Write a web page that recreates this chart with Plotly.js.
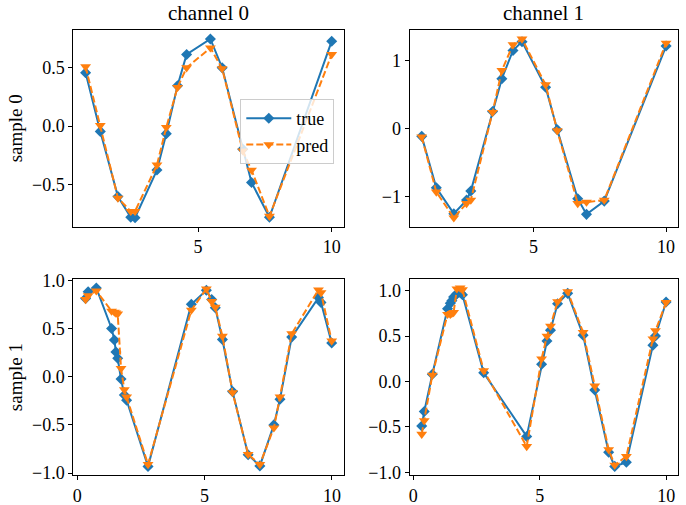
<!DOCTYPE html>
<html>
<head>
<meta charset="utf-8">
<script src="https://cdn.plot.ly/plotly-3.0.1.min.js"></script>
<style>
  html, body { margin: 0; padding: 0; background: #ffffff; }
  #chart { width: 686px; height: 505px; }
</style>
</head>
<body>
<div id="chart"></div>
<script>
// Time stamps of each sample
const tSample0 = [0.79, 1.34, 2.0, 2.48, 2.64, 3.46, 3.81, 4.23, 4.57, 5.46, 5.90, 6.67, 7.0, 7.67, 10.0];
const tSample1 = [0.33, 0.43, 0.75, 1.35, 1.46, 1.52, 1.59, 1.72, 1.85, 1.94, 2.78, 4.48, 5.07, 5.28, 5.42,
                  5.70, 6.10, 6.71, 7.17, 7.72, 7.96, 8.42, 9.47, 9.57, 9.99];

// sample 0, channel 0
const trueS0C0 = [0.455, -0.045, -0.60, -0.776, -0.78, -0.374, -0.064, 0.343, 0.61, 0.742, 0.497, -0.196, -0.48, -0.776, 0.723];
const predS0C0 = [0.506, 0.006, -0.612, -0.725, -0.725, -0.33, -0.01, 0.33, 0.497, 0.666, 0.49, -0.21, -0.374, -0.767, 0.61];

// sample 0, channel 1
const trueS0C1 = [-0.113, -0.868, -1.25, -1.05, -0.917, 0.254, 0.735, 1.15, 1.28, 0.61, -0.015, -1.03, -1.26, -1.065, 1.215];
const predS0C1 = [-0.12, -0.93, -1.31, -1.10, -1.05, 0.24, 0.857, 1.235, 1.32, 0.647, -0.03, -1.10, -1.08, -1.05, 1.26];

// sample 1, channel 0
const trueS1C0 = [0.81, 0.88, 0.92, 0.50, 0.38, 0.255, 0.19, -0.025, -0.19, -0.245, -0.93, 0.75, 0.895, 0.80, 0.715,
                  0.385, -0.155, -0.81, -0.925, -0.50, -0.235, 0.41, 0.82, 0.77, 0.35];
const predS1C0 = [0.80, 0.84, 0.89, 0.68, 0.67, 0.66, 0.65, 0.085, -0.135, -0.21, -0.91, 0.69, 0.91, 0.78, 0.72,
                  0.42, -0.165, -0.805, -0.91, -0.53, -0.21, 0.445, 0.90, 0.87, 0.37];

// sample 1, channel 1
const trueS1C1 = [-0.49, -0.33, 0.08, 0.80, 0.86, 0.89, 0.93, 0.965, 0.98, 0.955, 0.095, -0.605, 0.19, 0.445, 0.565,
                  0.855, 0.97, 0.51, -0.095, -0.78, -0.935, -0.89, 0.40, 0.50, 0.875];
const predS1C1 = [-0.58, -0.43, 0.07, 0.74, 0.74, 0.75, 0.76, 1.02, 1.03, 1.01, 0.12, -0.715, 0.25, 0.50, 0.61,
                  0.88, 0.99, 0.54, -0.05, -0.75, -0.92, -0.825, 0.47, 0.56, 0.87];

const columnTitles = ['channel 0', 'channel 1'];
const rowTitles = ['sample 0', 'sample 1'];

const FONT = 'Liberation Serif, DejaVu Serif, serif';
const BLUE = '#1f77b4';
const ORANGE = '#ff7f0e';
const W = 686, H = 505;

// Panels: [times, true values, predicted values]
const panels = [
  [tSample0, trueS0C0, predS0C0],
  [tSample0, trueS0C1, predS0C1],
  [tSample1, trueS1C0, predS1C0],
  [tSample1, trueS1C1, predS1C1]
];

// Pixel boxes of the four axes
const colPx = [[73.3, 344], [409.5, 678.3]];
const rowPx = [[30, 226.7], [279, 475.3]];

// 5% padding around the data extent
function padded(arrs) {
  const all = [].concat(...arrs);
  const lo = Math.min(...all), hi = Math.max(...all);
  const m = (hi - lo) * 0.05;
  return [lo - m, hi + m];
}

const traces = [];
const layout = {
  width: W, height: H,
  margin: {l: 0, r: 0, t: 0, b: 0},
  paper_bgcolor: '#ffffff',
  plot_bgcolor: '#ffffff',
  font: {family: FONT, size: 18, color: '#000000'},
  showlegend: true,
  legend: {
    x: 334.3 / W, xanchor: 'right',
    y: 1 - 99 / H, yanchor: 'top',
    bgcolor: 'rgba(255,255,255,0.8)',
    bordercolor: '#cccccc', borderwidth: 1,
    font: {family: FONT, size: 18, color: '#000000'},
    tracegroupgap: 0,
    itemwidth: 45
  },
  annotations: []
};

panels.forEach((p, i) => {
  const [t, yt, yp] = p;
  const row = Math.floor(i / 2), col = i % 2;
  const sfx = i === 0 ? '' : String(i + 1);
  traces.push({
    type: 'scatter', mode: 'lines+markers', name: 'true',
    x: t, y: yt, xaxis: 'x' + sfx, yaxis: 'y' + sfx,
    line: {color: BLUE, width: 2},
    marker: {symbol: 'diamond', size: 8.5, color: BLUE},
    showlegend: i === 0, legendgroup: 'true'
  });
  traces.push({
    type: 'scatter', mode: 'lines+markers', name: 'pred',
    x: t, y: yp, xaxis: 'x' + sfx, yaxis: 'y' + sfx,
    line: {color: ORANGE, width: 2, dash: '7px,3px'},
    marker: {symbol: 'triangle-down', size: 9.5, color: ORANGE},
    showlegend: i === 0, legendgroup: 'pred'
  });

  const yIsUnit = (i === 1);
  const common = {
    showline: true, mirror: true, linecolor: '#000000', linewidth: 1,
    showgrid: false, zeroline: false,
    ticks: 'outside', ticklen: 4, tickwidth: 1, tickcolor: '#000000',
    tickfont: {family: FONT, size: 18, color: '#000000'}
  };
  layout['xaxis' + sfx] = Object.assign({}, common, {
    domain: [colPx[col][0] / W, colPx[col][1] / W],
    anchor: 'y' + sfx,
    range: padded([t]),
    tickmode: 'linear', tick0: 0, dtick: 5
  });
  layout['yaxis' + sfx] = Object.assign({}, common, {
    domain: [1 - rowPx[row][1] / H, 1 - rowPx[row][0] / H],
    anchor: 'x' + sfx,
    range: padded([yt, yp]),
    tickmode: 'linear', tick0: 0,
    dtick: yIsUnit ? 1 : 0.5,
    tickformat: yIsUnit ? 'd' : '.1f'
  });
});

columnTitles.forEach((txt, c) => {
  layout.annotations.push({
    text: txt, xref: 'paper', yref: 'paper',
    x: (colPx[c][0] + colPx[c][1]) / 2 / W, xanchor: 'center',
    y: 1 - 13 / H, yanchor: 'middle',
    showarrow: false, font: {family: FONT, size: 21, color: '#000000'}
  });
});
rowTitles.forEach((txt, r) => {
  layout.annotations.push({
    text: txt, xref: 'paper', yref: 'paper',
    x: 15 / W, xanchor: 'center',
    y: 1 - (rowPx[r][0] + rowPx[r][1]) / 2 / H, yanchor: 'middle',
    textangle: -90,
    showarrow: false, font: {family: FONT, size: 19, color: '#000000'}
  });
});

Plotly.newPlot('chart', traces, layout, {displayModeBar: false, staticPlot: true});
</script>
</body>
</html>
